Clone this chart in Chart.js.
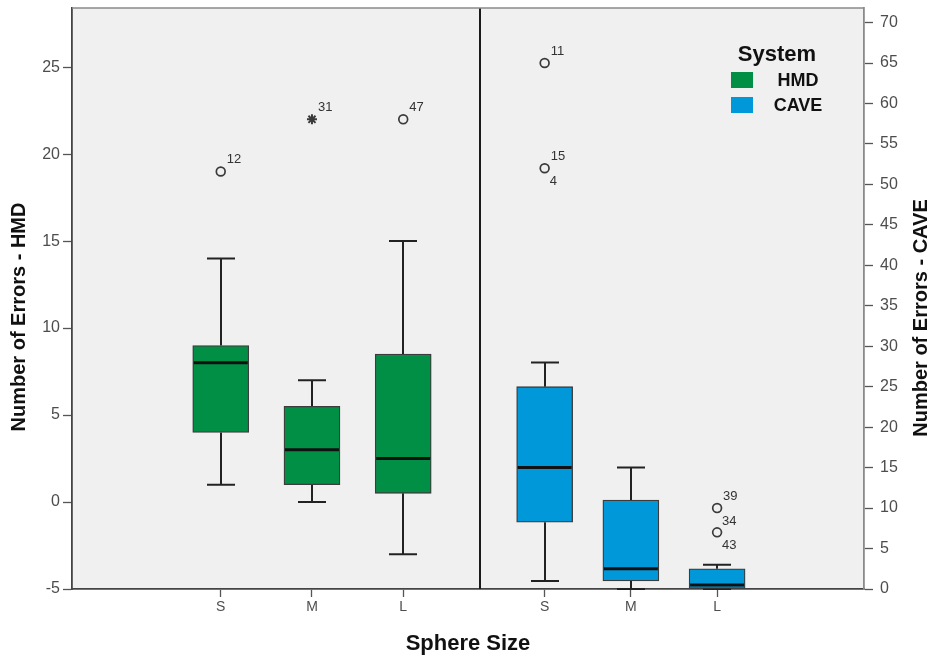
<!DOCTYPE html>
<html>
<head>
<meta charset="utf-8">
<title>Number of Errors by Sphere Size</title>
<script src="https://cdn.jsdelivr.net/npm/chart.js@4.4.1/dist/chart.umd.min.js"></script>
<style>
  html, body { margin: 0; padding: 0; background: #fff; }
</style>
</head>
<body>
<canvas id="errorsChart" width="938" height="659"></canvas>
<script>
// Box plots: errors per sphere size, HMD on the left axis, CAVE on the right axis

const sizes = ["S", "M", "L"]

// HMD - five number summary (left axis)
const hmdMin = [1, 0, -3]
const hmdQ1 = [4, 1, 0.5]
const hmdMedian = [8, 3, 2.5]
const hmdQ3 = [9, 5.5, 8.5]
const hmdMax = [14, 7, 15]

// CAVE - five number summary (right axis)
const caveMin = [1, 0, 0]
const caveQ1 = [8.25, 1, 0]
const caveMedian = [15, 2.5, 0.5]
const caveQ3 = [25, 11, 2.5]
const caveMax = [28, 15, 3]

// outliers: sphere size index, value, case numbers (first above, second below)
const hmdOutlierSize = [0, 1, 2]
const hmdOutlierValue = [19, 22, 22]
const hmdOutlierCases = [["12"], ["31"], ["47"]]
const hmdOutlierExtreme = [false, true, false]

const caveOutlierSize = [0, 0, 2, 2]
const caveOutlierValue = [65, 52, 10, 7]
const caveOutlierCases = [["11"], ["15", "4"], ["39", "34"], ["", "43"]]
const caveOutlierExtreme = [false, false, false, false]

// tick labels
const hmdTicks = [-5, 0, 5, 10, 15, 20, 25]
const caveTicks = [0, 5, 10, 15, 20, 25, 30, 35, 40, 45, 50, 55, 60, 65, 70]

// layout on the x axis (units of one left-group slot)
const groupStart = [1.63, 5.18]
const groupStep = [1.0, 0.945]
const dividerAt = 4.47
const xPos = (g, i) => groupStart[g] + groupStep[g] * i

const FONT = '"Liberation Sans", Arial, Helvetica, sans-serif'
const GREEN = "#008f45"
const BLUE = "#0098d8"

const groups = [
  { label: "HMD", axis: "yL", min: hmdMin, q1: hmdQ1, med: hmdMedian, q3: hmdQ3, max: hmdMax, color: GREEN },
  { label: "CAVE", axis: "yR", min: caveMin, q1: caveQ1, med: caveMedian, q3: caveQ3, max: caveMax, color: BLUE },
]

const boxDatasets = groups.map((g, gi) => ({
  type: "bar",
  label: g.label,
  yAxisID: g.axis,
  grouped: false,
  data: sizes.map((s, i) => ({ x: xPos(gi, i), y: [g.q1[i], g.q3[i]] })),
  backgroundColor: g.color,
  borderColor: "#3c3c3c",
  borderWidth: 1.3,
  borderSkipped: false,
  barThickness: 56,
}))

const outlierDataset = (gi, axis, sizeIdx, values, extreme) => ({
  type: "scatter",
  label: "outliers " + gi,
  yAxisID: axis,
  data: values.map((v, k) => ({ x: xPos(gi, sizeIdx[k]), y: v })),
  pointStyle: extreme.map((e) => (e ? "star" : "circle")),
  pointRadius: extreme.map((e) => (e ? 5 : 4.4)),
  pointBorderWidth: extreme.map((e) => (e ? 2 : 1.7)),
  pointBorderColor: "#3a3a3a",
  pointBackgroundColor: "rgba(0,0,0,0)",
})

const boxParts = {
  id: "boxParts",
  beforeDraw(chart) {
    const { ctx, chartArea: a } = chart
    ctx.save()
    ctx.fillStyle = "#f0f0f0"
    ctx.fillRect(a.left, a.top, a.right - a.left, a.bottom - a.top)
    ctx.restore()
  },
  beforeDatasetsDraw(chart) {
    const { ctx } = chart
    const xs = chart.scales.x
    ctx.save()
    ctx.strokeStyle = "#222"
    ctx.lineWidth = 2
    groups.forEach((g, gi) => {
      const ys = chart.scales[g.axis]
      sizes.forEach((s, i) => {
        const px = Math.round(xs.getPixelForValue(xPos(gi, i)))
        const yMin = ys.getPixelForValue(g.min[i])
        const yQ1 = ys.getPixelForValue(g.q1[i])
        const yQ3 = ys.getPixelForValue(g.q3[i])
        const yMax = ys.getPixelForValue(g.max[i])
        ctx.beginPath()
        ctx.moveTo(px, yQ3); ctx.lineTo(px, yMax)
        ctx.moveTo(px, yQ1); ctx.lineTo(px, yMin)
        ctx.moveTo(px - 14, yMax); ctx.lineTo(px + 14, yMax)
        ctx.moveTo(px - 14, yMin); ctx.lineTo(px + 14, yMin)
        ctx.stroke()
      })
    })
    ctx.restore()
  },
  afterDatasetsDraw(chart) {
    const { ctx, chartArea: a } = chart
    const xs = chart.scales.x
    ctx.save()

    // medians
    ctx.strokeStyle = "#111"
    ctx.lineWidth = 3
    groups.forEach((g, gi) => {
      const ys = chart.scales[g.axis]
      sizes.forEach((s, i) => {
        const px = xs.getPixelForValue(xPos(gi, i))
        const py = ys.getPixelForValue(g.med[i])
        ctx.beginPath()
        ctx.moveTo(px - 27, py); ctx.lineTo(px + 27, py)
        ctx.stroke()
      })
    })

    // divider between the two systems
    const dx = Math.round(xs.getPixelForValue(dividerAt))
    ctx.strokeStyle = "#1a1a1a"
    ctx.lineWidth = 2
    ctx.beginPath()
    ctx.moveTo(dx, a.top); ctx.lineTo(dx, a.bottom)
    ctx.stroke()

    // top frame line
    ctx.strokeStyle = "#8a8a8a"
    ctx.lineWidth = 1.5
    ctx.beginPath()
    ctx.moveTo(a.left, a.top); ctx.lineTo(a.right, a.top)
    ctx.stroke()

    // case labels of the outliers
    ctx.fillStyle = "#333"
    ctx.font = "13px " + FONT
    ctx.textAlign = "left"
    ctx.textBaseline = "middle"
    const caseLabels = (gi, axis, sizeIdx, values, cases) => {
      const ys = chart.scales[axis]
      values.forEach((v, k) => {
        const px = xs.getPixelForValue(xPos(gi, sizeIdx[k]))
        const py = ys.getPixelForValue(v)
        const [above, below] = cases[k]
        if (above) ctx.fillText(above, px + 6, py - 12)
        if (below) ctx.fillText(below, px + 5, py + 13)
      })
    }
    caseLabels(0, "yL", hmdOutlierSize, hmdOutlierValue, hmdOutlierCases)
    caseLabels(1, "yR", caveOutlierSize, caveOutlierValue, caveOutlierCases)

    // legend
    ctx.fillStyle = "#111"
    ctx.textAlign = "center"
    ctx.font = "bold 22px " + FONT
    ctx.fillText("System", 777, 55)
    ctx.font = "bold 18px " + FONT
    groups.forEach((g, gi) => {
      const y = 72 + gi * 25
      ctx.fillStyle = g.color
      ctx.fillRect(731, y, 22, 16)
      ctx.fillStyle = "#111"
      ctx.fillText(g.label, 798, y + 9)
    })

    // vertical axis titles
    ctx.font = "bold 20px " + FONT
    const vTitle = (text, x, y) => {
      ctx.save()
      ctx.translate(x, y)
      ctx.rotate(-Math.PI / 2)
      ctx.fillText(text, 0, 0)
      ctx.restore()
    }
    vTitle("Number of Errors - HMD", 19, 317)
    vTitle("Number of Errors - CAVE", 921, 318)

    ctx.restore()
  },
}

const yAxis = (position, ticks, min, max, width, borderColor, pad) => ({
  type: "linear",
  position: position,
  min: min,
  max: max,
  afterBuildTicks: (scale) => {
    scale.ticks = ticks.map((v) => ({ value: v }))
  },
  afterFit: (scale) => {
    scale.width = width
    scale.paddingTop = 0
    scale.paddingBottom = 0
  },
  grid: { drawOnChartArea: false, drawTicks: true, tickLength: 9, color: "#555", tickWidth: 1.3 },
  border: { display: true, color: borderColor, width: 1.8 },
  ticks: { color: "#4d4d4d", font: { size: 16 }, padding: pad },
})

new Chart(document.getElementById("errorsChart"), {
  type: "bar",
  data: {
    datasets: [
      ...boxDatasets,
      outlierDataset(0, "yL", hmdOutlierSize, hmdOutlierValue, hmdOutlierExtreme),
      outlierDataset(1, "yR", caveOutlierSize, caveOutlierValue, caveOutlierExtreme),
    ],
  },
  options: {
    responsive: false,
    animation: false,
    events: [],
    layout: { padding: { top: 8, left: 0, right: 0, bottom: 0 } },
    plugins: { legend: { display: false }, tooltip: { enabled: false } },
    scales: {
      x: {
        type: "linear",
        offset: false,
        min: 0,
        max: 8.68,
        afterBuildTicks: (scale) => {
          scale.ticks = [0, 1].flatMap((g) => sizes.map((s, i) => ({ value: xPos(g, i) })))
        },
        afterFit: (scale) => {
          scale.height = 70
          scale.paddingLeft = 0
          scale.paddingRight = 0
        },
        grid: { offset: false, drawOnChartArea: false, drawTicks: true, tickLength: 8, color: "#555", tickWidth: 1.3 },
        border: { display: true, color: "#444", width: 1.8 },
        ticks: {
          autoSkip: false,
          maxRotation: 0,
          color: "#4d4d4d",
          font: { size: 14 },
          padding: 2,
          callback: (value, index) => sizes[index % sizes.length],
        },
        title: {
          display: true,
          text: "Sphere Size",
          color: "#111",
          font: { size: 22, weight: "bold" },
          padding: { top: 0, bottom: 2 },
        },
      },
      yL: yAxis("left", hmdTicks, -5, 28.4, 72, "#444", 3),
      yR: yAxis("right", caveTicks, 0, 71.8, 74, "#8a8a8a", 7),
    },
  },
  plugins: [boxParts],
})
Chart.defaults.font.family = FONT
</script>
</body>
</html>
